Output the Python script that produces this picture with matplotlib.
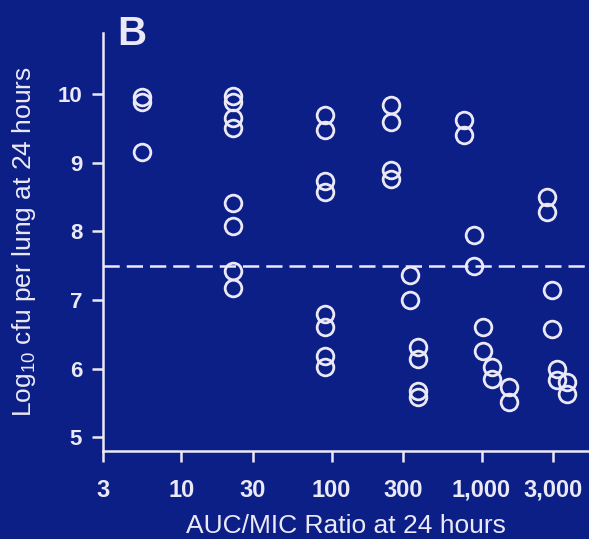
import matplotlib
matplotlib.use("Agg")
import matplotlib.pyplot as plt
import numpy as np

# AUC/MIC ratio at 24 h and log10 cfu per lung
auc_mic = [
    5.5, 5.5, 5.5,
    22, 22, 22, 22, 22, 22, 22, 22,
    90, 90, 90, 90, 90, 90, 90, 90,
    248, 248, 248, 248,
    334, 334,
    378, 378, 378, 378,
    765, 765,
    893, 893,
    1020, 1020,
    1175, 1175,
    1515, 1515,
    2735, 2735,
    2940, 2940,
    3190, 3190,
    3720, 3720,
]
log_cfu = [
    9.96, 9.88, 9.16,
    9.97, 9.89, 9.65, 9.50, 8.41, 8.08, 7.42, 7.17,
    9.70, 9.47, 8.74, 8.57, 6.80, 6.60, 6.18, 6.02,
    9.84, 9.60, 8.89, 8.77,
    7.36, 7.00,
    6.31, 6.14, 5.68, 5.58,
    9.62, 9.40,
    7.94, 7.50,
    6.60, 6.26,
    6.02, 5.85,
    5.73, 5.51,
    8.50, 8.28,
    7.14, 6.58,
    6.00, 5.83,
    5.80, 5.63,
]
stasis_level = 7.5
x_ticks = [3, 10, 30, 100, 300, 1000, 3000]
x_tick_labels = ["3", "10", "30", "100", "300", "1,000", "3,000"]
y_ticks = [5, 6, 7, 8, 9, 10]

BG = "#0b1f86"
FG = "#ebe9f7"

plt.rcParams["font.family"] = ["Liberation Sans", "DejaVu Sans"]
plt.rcParams["mathtext.fontset"] = "custom"
plt.rcParams["mathtext.rm"] = "Liberation Sans"
plt.rcParams["mathtext.it"] = "Liberation Sans:italic"
plt.rcParams["mathtext.bf"] = "Liberation Sans:bold"

fig = plt.figure(figsize=(5.89, 5.39), dpi=100, facecolor=BG)
ax = fig.add_axes([103 / 589, 88 / 539, 1 - 103 / 589, (451 - 33) / 539])
ax.set_facecolor(BG)

ax.plot(auc_mic, log_cfu, linestyle="none", marker="o", markersize=12,
        markerfacecolor="none", markeredgecolor=FG, markeredgewidth=2.0,
        clip_on=False, zorder=3)
ax.axhline(stasis_level, color=FG, linewidth=1.8, dashes=(6.5, 2.8), zorder=2)

ax.set_xscale("log")
ax.set_xlim(3, 5200)
ax.set_ylim(4.8, 10.89)
ax.set_xticks(x_ticks)
ax.set_xticklabels(x_tick_labels)
ax.xaxis.set_minor_locator(matplotlib.ticker.NullLocator())
ax.set_yticks(y_ticks)

for side in ["top", "right"]:
    ax.spines[side].set_visible(False)
for side in ["left", "bottom"]:
    ax.spines[side].set_color(FG)
    ax.spines[side].set_linewidth(1.8)

ax.tick_params(axis="both", direction="out", length=8, width=1.8, color=FG,
               labelcolor=FG)
ax.tick_params(axis="x", labelsize=17, pad=12)
ax.tick_params(axis="y", labelsize=16, pad=7)
for lbl in ax.get_xticklabels() + ax.get_yticklabels():
    lbl.set_fontweight("bold")

ax.set_xlabel("AUC/MIC Ratio at 24 hours", fontsize=19, color=FG, labelpad=9)
ax.set_ylabel(r"Log$_{10}$ cfu per lung at 24 hours", fontsize=19, color=FG,
              labelpad=14)

fig.text(117 / 589, (539 - 45) / 539, "B", fontsize=29, fontweight="bold",
         color=FG, ha="left", va="baseline")

fig.savefig("out.png", dpi=100, facecolor=BG)
